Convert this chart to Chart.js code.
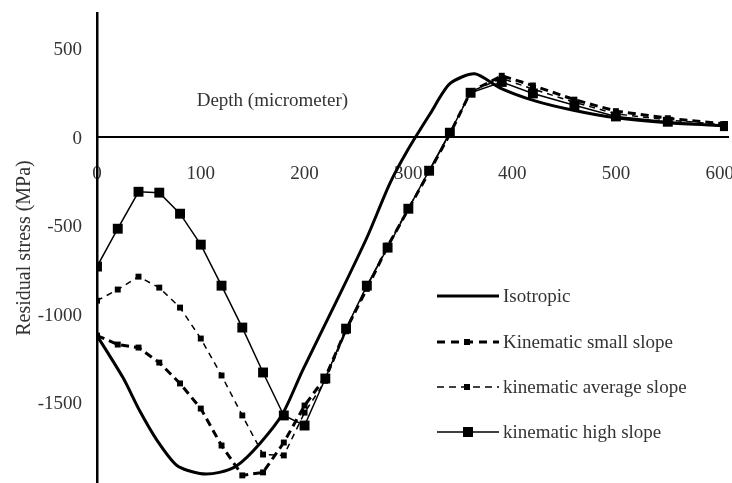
<!DOCTYPE html>
<html>
<head>
<meta charset="utf-8">
<script src="https://cdn.jsdelivr.net/npm/chart.js@4.4.1/dist/chart.umd.min.js"></script>
<style>
  html, body { margin: 0; padding: 0; background: #fff; }
  #wrap { position: relative; width: 732px; height: 483px; }
  .legend { position: absolute; left: 437px; top: 0; font-family: 'Liberation Serif', 'Times New Roman', serif; font-size: 19px; color: #333; }
  .legend .row { position: absolute; left: 0; height: 24px; display: flex; align-items: center; white-space: nowrap; }
  .legend svg { width: 64px; height: 24px; margin-right: 2px; }
</style>
</head>
<body>
<div id="wrap">
  <canvas id="chart" width="732" height="483"></canvas>
  <div class="legend">
    <div class="row" style="top:284px">
      <svg viewBox="0 0 64 24"><line x1="0" y1="12" x2="62" y2="12" stroke="#000" stroke-width="3"/></svg>Isotropic
    </div>
    <div class="row" style="top:330px">
      <svg viewBox="0 0 64 24"><line x1="0" y1="12" x2="62" y2="12" stroke="#000" stroke-width="3" stroke-dasharray="8,6"/><rect x="27" y="9" width="6" height="6" fill="#000"/></svg>Kinematic small slope
    </div>
    <div class="row" style="top:375px">
      <svg viewBox="0 0 64 24"><line x1="0" y1="12" x2="62" y2="12" stroke="#000" stroke-width="1.5" stroke-dasharray="7,5"/><rect x="27" y="9" width="6" height="6" fill="#000"/></svg>kinematic average slope
    </div>
    <div class="row" style="top:420px">
      <svg viewBox="0 0 64 24"><line x1="0" y1="12" x2="62" y2="12" stroke="#000" stroke-width="1.5"/><rect x="26" y="7" width="10" height="10" fill="#000"/></svg>kinematic high slope
    </div>
  </div>
</div>
<script>
// depths (micrometer) and residual stress (MPa)
const isoDepth = [0, 25, 41, 58, 77, 99, 118, 135, 157, 179, 198, 231, 260, 282, 299, 321, 340, 364, 388, 422, 459, 500, 550, 605];
const isotropic = [-1124, -1362, -1548, -1718, -1859, -1904, -1898, -1859, -1734, -1565, -1322, -927, -571, -266, -79, 130, 300, 356, 277, 203, 150, 107, 79, 62];

const depth = [0, 20, 40, 60, 80, 100, 120, 140, 160, 180, 200, 220, 240, 260, 280, 300, 320, 340, 360, 390, 420, 460, 500, 550, 605];
const smallSlope = [-1124, -1175, -1192, -1277, -1395, -1537, -1746, -1915, -1898, -1729, -1520, -1360, -1090, -860, -620, -410, -200, 15, 255, 345, 290, 210, 145, 105, 72];
const avgSlope = [-927, -864, -791, -853, -966, -1141, -1350, -1576, -1797, -1802, -1560, -1380, -1100, -850, -615, -405, -195, 20, 255, 330, 270, 195, 130, 95, 68];
const highSlope = [-734, -520, -311, -316, -435, -610, -842, -1079, -1333, -1576, -1633, -1367, -1085, -842, -627, -407, -192, 23, 249, 310, 245, 178, 115, 85, 60];

const xTicks = [0, 100, 200, 300, 400, 500, 600];
const yTicks = [-1500, -1000, -500, 0, 500];

const serif = "'Liberation Serif', 'Times New Roman', serif";

function pts(xs, ys) {
    return xs.map((x, i) => ({ x: x, y: ys[i] }));
}

// no extra room for label overflow, the plot fills the canvas like the figure
function noPadding(s) {
    s.paddingLeft = 0;
    s.paddingRight = 0;
    s.paddingTop = 0;
    s.paddingBottom = 0;
}

// axis title that sits inside the plot, above the zero line
const depthTitle = {
    id: 'depthTitle',
    afterDraw(chart) {
        const ctx = chart.ctx;
        const x = chart.scales.x.getPixelForValue(169);
        const y = chart.scales.y.getPixelForValue(204);
        ctx.save();
        ctx.font = '19px ' + serif;
        ctx.fillStyle = '#333';
        ctx.textAlign = 'center';
        ctx.textBaseline = 'middle';
        ctx.fillText('Depth (micrometer)', x, y);
        ctx.restore();
    }
};

new Chart(document.getElementById('chart'), {
    type: 'line',
    data: {
        datasets: [
            {
                label: 'Isotropic',
                data: pts(isoDepth, isotropic),
                borderColor: '#000',
                borderWidth: 3,
                pointRadius: 0,
                tension: 0.25
            },
            {
                label: 'Kinematic small slope',
                data: pts(depth, smallSlope),
                borderColor: '#000',
                borderWidth: 3,
                borderDash: [8, 5],
                pointStyle: 'rect',
                pointRadius: 4.2,
                pointBorderWidth: 0,
                pointBackgroundColor: '#000',
                tension: 0
            },
            {
                label: 'kinematic average slope',
                data: pts(depth, avgSlope),
                borderColor: '#000',
                borderWidth: 1.5,
                borderDash: [6, 5],
                pointStyle: 'rect',
                pointRadius: 4.2,
                pointBorderWidth: 0,
                pointBackgroundColor: '#000',
                tension: 0
            },
            {
                label: 'kinematic high slope',
                data: pts(depth, highSlope),
                borderColor: '#000',
                borderWidth: 1.5,
                pointStyle: 'rect',
                pointRadius: 7,
                pointBorderWidth: 0,
                pointBackgroundColor: '#000',
                tension: 0
            }
        ]
    },
    options: {
        responsive: false,
        animation: false,
        devicePixelRatio: 1,
        layout: { autoPadding: false, padding: { top: 13, right: 4, left: 0, bottom: 0 } },
        plugins: {
            legend: { display: false },
            tooltip: { enabled: false }
        },
        scales: {
            x: {
                type: 'linear',
                min: 0,
                max: 608,
                position: { y: 0 },
                grid: { display: false, drawTicks: false },
                border: { display: true, color: '#000', width: 2 },
                afterBuildTicks: s => { s.ticks = xTicks.map(v => ({ value: v })); },
                afterFit: noPadding,
                ticks: {
                    padding: 26,
                    color: '#333',
                    font: { family: serif, size: 19 },
                    maxRotation: 0,
                    autoSkip: false,
                    callback: v => String(v)
                }
            },
            y: {
                type: 'linear',
                min: -1958,
                max: 700,
                grid: { display: false, drawTicks: false },
                border: { display: true, color: '#000', width: 2.5 },
                afterBuildTicks: s => { s.ticks = yTicks.map(v => ({ value: v })); },
                afterFit: s => { noPadding(s); s.width = 97; },
                ticks: {
                    padding: 15,
                    labelOffset: 2,
                    color: '#333',
                    font: { family: serif, size: 19 },
                    autoSkip: false,
                    callback: v => String(v)
                },
                title: {
                    display: true,
                    text: 'Residual stress (MPa)',
                    color: '#333',
                    font: { family: serif, size: 20 },
                    padding: { top: 13, bottom: 0 }
                }
            }
        }
    },
    plugins: [depthTitle]
});
</script>
</body>
</html>
